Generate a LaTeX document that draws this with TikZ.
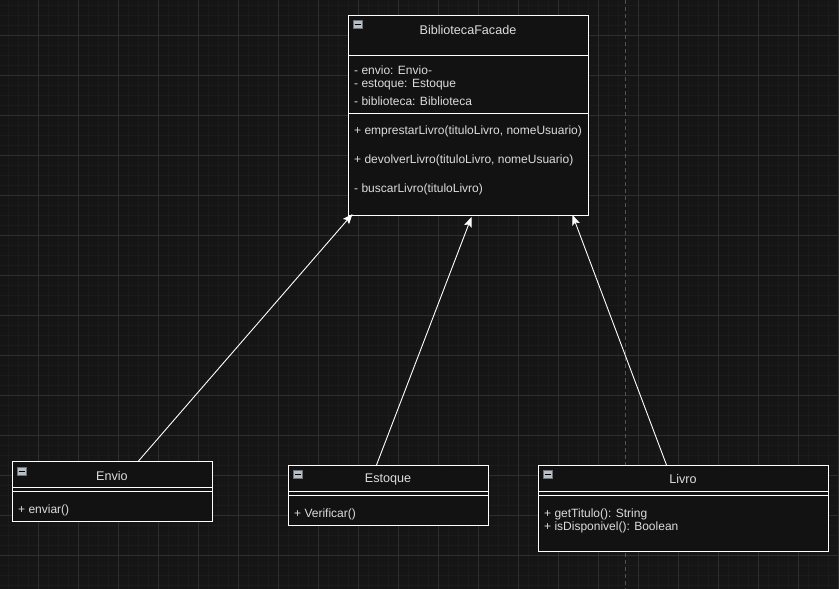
\documentclass[tikz,border=0pt]{standalone}
\usepackage{fontspec}
\setmainfont{Liberation Sans}
\usetikzlibrary{arrows.meta}
\definecolor{bg}{HTML}{151515}
\definecolor{minorc}{HTML}{1B1B1B}
\definecolor{majorc}{HTML}{2E2E2E}
\definecolor{boxfill}{HTML}{121212}
\definecolor{txt}{HTML}{DCDCDC}
\definecolor{iconc}{HTML}{B8BEC6}
\definecolor{dashc}{HTML}{555555}
\tikzset{
  minorline/.style={draw=minorc, line width=0.8pt},
  majorline/.style={draw=majorc, line width=1pt},
  cls/.style={draw=white, fill=boxfill, line width=1pt, inner sep=0pt, anchor=north west},
  sep/.style={draw=white, line width=1pt},
  title/.style={text=txt, font=\fontsize{12.6}{14}\selectfont, inner sep=0pt},
  member/.style={text=txt, font=\fontsize{12}{14}\selectfont, inner sep=0pt, anchor=west},
  icon/.style={fill=iconc, draw=iconc!60!black, line width=0.5pt, minimum width=9pt, minimum height=8pt, inner sep=0pt},
  arr/.style={draw=white, line width=0.9pt, -{Stealth[length=10pt,width=8pt,inset=2pt]}},
}
\begin{document}
\begin{tikzpicture}[x=1pt,y=-1pt]
\fill[bg] (0,0) rectangle (839,589);
\useasboundingbox (0,0) rectangle (839,589);
% grid
\foreach \x in {8,18,...,838} \draw[minorline] (\x,0) -- (\x,589);
\foreach \y in {5,15,...,585} \draw[minorline] (0,\y) -- (839,\y);
\foreach \x in {38,78,...,838} \draw[majorline] (\x,0) -- (\x,589);
\foreach \y in {35,75,...,585} \draw[majorline] (0,\y) -- (839,\y);
\draw[dashc, line width=1pt, dash pattern=on 4pt off 3pt] (625,0) -- (625,589);

% BibliotecaFacade
\node[cls, minimum width=240pt, minimum height=200pt] (facade) at (348,15) {};
\draw[sep] ([yshift=-40pt]facade.north west) -- ([yshift=-40pt]facade.north east);
\draw[sep] ([yshift=-98pt]facade.north west) -- ([yshift=-98pt]facade.north east);
\node[icon] (ficon) at (357.5,24.5) {};
\draw[black, line width=1pt] ([xshift=-3pt]ficon.center) -- ([xshift=3pt]ficon.center);
\node[title] (ftitle) at (468,29.5) {BibliotecaFacade};
\node[member] (fa1) at (354,70) {- envio: Envio-};
\node[member] (fa2) at (354,85) {- estoque: Estoque};
\node[member] (fa3) at (354,101) {- biblioteca: Biblioteca};
\node[member] (fm1) at (354,131) {+ emprestarLivro(tituloLivro, nomeUsuario)};
\node[member] (fm2) at (354,160) {+ devolverLivro(tituloLivro, nomeUsuario)};
\node[member] (fm3) at (354,189) {- buscarLivro(tituloLivro)};

% Envio
\node[cls, minimum width=200pt, minimum height=60pt] (envio) at (12,461) {};
\draw[sep] ([yshift=-26pt]envio.north west) -- ([yshift=-26pt]envio.north east);
\draw[sep] ([yshift=-30pt]envio.north west) -- ([yshift=-30pt]envio.north east);
\node[icon] (eicon) at (21.5,471) {};
\draw[black, line width=1pt] ([xshift=-3pt]eicon.center) -- ([xshift=3pt]eicon.center);
\node[title] (etitle) at (112,475.5) {Envio};
\node[member] (em1) at (18,510) {+ enviar()};

% Estoque
\node[cls, minimum width=200pt, minimum height=60pt] (estoque) at (288,465) {};
\draw[sep] ([yshift=-26pt]estoque.north west) -- ([yshift=-26pt]estoque.north east);
\draw[sep] ([yshift=-30pt]estoque.north west) -- ([yshift=-30pt]estoque.north east);
\node[icon] (sicon) at (297.5,474.5) {};
\draw[black, line width=1pt] ([xshift=-3pt]sicon.center) -- ([xshift=3pt]sicon.center);
\node[title] (stitle) at (388,479) {Estoque};
\node[member] (sm1) at (294,514) {+ Verificar()};

% Livro
\node[cls, minimum width=290pt, minimum height=86pt] (livro) at (538,465) {};
\draw[sep] ([yshift=-26pt]livro.north west) -- ([yshift=-26pt]livro.north east);
\draw[sep] ([yshift=-30pt]livro.north west) -- ([yshift=-30pt]livro.north east);
\node[icon] (licon) at (547.5,474.5) {};
\draw[black, line width=1pt] ([xshift=-3pt]licon.center) -- ([xshift=3pt]licon.center);
\node[title] (ltitle) at (683,479) {Livro};
\node[member] (lm1) at (544,514) {+ getTitulo(): String};
\node[member] (lm2) at (544,527) {+ isDisponivel(): Boolean};

% connectors
\draw[arr] ([xshift=26pt]envio.north) -- ([xshift=-116pt,yshift=2pt]facade.south);
\draw[arr] ([xshift=-12pt]estoque.north) -- ([xshift=3pt,yshift=-1pt]facade.south);
\draw[arr] ([xshift=-17pt]livro.north) -- ([xshift=104pt,yshift=1pt]facade.south);
\end{tikzpicture}
\end{document}
